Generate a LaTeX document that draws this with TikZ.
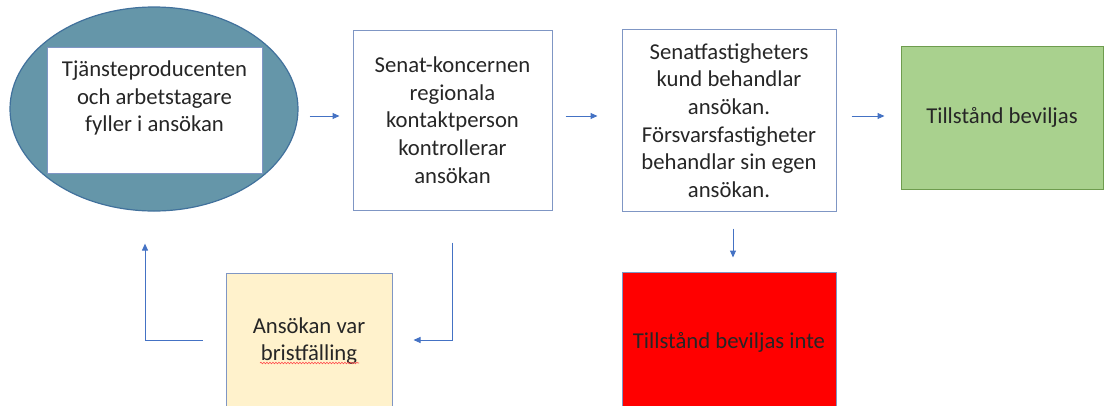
\documentclass[tikz,border=0pt]{standalone}
\usepackage{xcolor}
\usepackage{fontspec}
\setmainfont{Carlito}
\usetikzlibrary{arrows.meta,shapes.geometric,decorations.pathmorphing}

\definecolor{boxline}{HTML}{7F96C4}
\definecolor{arrowblue}{HTML}{4472C4}
\definecolor{blobfill}{HTML}{6596A9}
\definecolor{blobline}{HTML}{41719C}
\definecolor{yellowfill}{HTML}{FFF2CC}
\definecolor{greenfill}{HTML}{A9D18E}
\definecolor{greenline}{HTML}{6E9C4E}
\definecolor{textgray}{HTML}{262626}

\begin{document}
\begin{tikzpicture}[x=1pt, y=-1pt,
        every node/.style={font=\fontsize{22.7pt}{27.7pt}\selectfont, text=textgray, align=center},
        box/.style={draw=boxline, line width=1pt, rectangle, inner sep=0pt},
        arr/.style={draw=arrowblue, line width=1pt, -{Triangle[length=7pt,width=6pt]}}]
            \useasboundingbox (0,0) rectangle (1104,405);

            \node[draw=blobline, fill=blobfill, line width=1.2pt, ellipse, minimum width=288pt, minimum height=204pt, inner sep=0pt] (blob) at (154,109) {};
            \node[box, fill=white, minimum width=215pt, minimum height=126pt,
                label={[yshift=12pt]center:Tjänsteproducenten\\och arbetstagare\\fyller i ansökan}] (start) at (154.5,110) {};

            \node[box, minimum width=199pt, minimum height=180pt] (check) at (452.5,120) {Senat-koncernen\\regionala\\kontaktperson\\kontrollerar\\ansökan};
            \node[box, minimum width=214pt, minimum height=182pt] (handle) at (729,120.5) {Senatfastigheters\\kund behandlar\\ansökan.\\Försvarsfastigheter\\behandlar sin egen\\ansökan.};
            \node[box, draw=greenline, fill=greenfill, minimum width=202pt, minimum height=143pt] (granted) at (1002,117.5) {Tillstånd beviljas};
            \node[box, fill=red, minimum width=214pt, minimum height=140pt] (denied) at (729,342) {Tillstånd beviljas inte};
            \node[box, fill=yellowfill, minimum width=166pt, minimum height=136pt] (flawed) at (309,341) {Ansökan var\\bristfälling};

            % spelling mark under the second line
            \draw[red!70, line width=0.6pt, decorate, decoration={snake, amplitude=0.8pt, segment length=3pt}] ([xshift=-49pt,yshift=-22pt]flawed.center) -- ([xshift=50pt,yshift=-22pt]flawed.center);

            \draw[arr] ([xshift=11pt,yshift=-7pt]blob.east) -- ([xshift=-13pt,yshift=4pt]check.west);
            \draw[arr] ([xshift=13pt,yshift=4pt]check.east) -- ([xshift=-24pt,yshift=4.5pt]handle.west);
            \draw[arr] ([xshift=15pt,yshift=4.5pt]handle.east) -- ([xshift=-16pt,yshift=1.5pt]granted.west);
            \draw[arr] ([xshift=4pt,yshift=-16.5pt]handle.south) -- ([xshift=4pt,yshift=14pt]denied.north);
            \draw[arr] ([yshift=-32pt]check.south) |- ([xshift=21pt,yshift=1pt]flawed.east);
            \draw[arr] ([xshift=-23pt,yshift=1pt]flawed.west) -| ([xshift=-9pt,yshift=-32pt]blob.south);
        \end{tikzpicture}
\end{document}
